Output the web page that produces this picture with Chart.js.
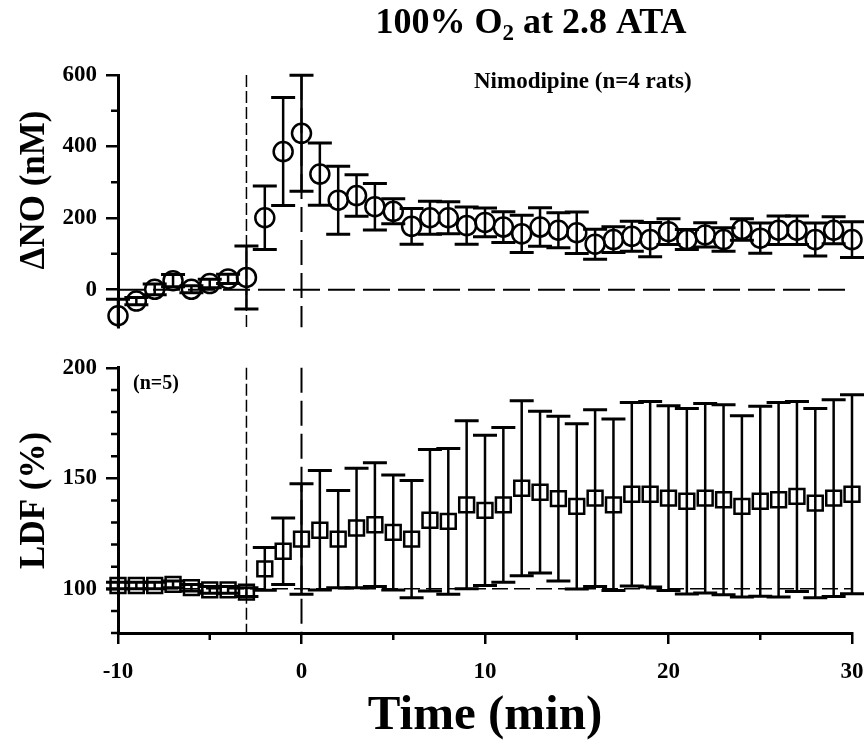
<!DOCTYPE html>
<html>
<head>
<meta charset="utf-8">
<script src="https://cdn.jsdelivr.net/npm/chart.js@4.4.1/dist/chart.umd.min.js"></script>
<style>
  html, body { margin: 0; padding: 0; background: #fff; }
  #wrap { position: relative; width: 867px; height: 755px; }
  canvas { position: absolute; left: 0; }
  #noChart { top: 0; }
  #ldfChart { top: 345px; }
</style>
</head>
<body>
<div id="wrap">
  <canvas id="noChart" width="867" height="350"></canvas>
  <canvas id="ldfChart" width="867" height="410"></canvas>
</div>
<script>
// sampling times (min), 0 = start of hyperbaric O2
var minutes = [-10, -9, -8, -7, -6, -5, -4, -3, -2, -1, 0, 1, 2, 3, 4, 5, 6, 7, 8, 9,
  10, 11, 12, 13, 14, 15, 16, 17, 18, 19, 20, 21, 22, 23, 24, 25, 26, 27, 28, 29, 30];

// delta NO (nM), mean and SEM
var noMean = [-73, -32, 1, 25, 1, 17, 30, 34, 201, 386, 437, 323, 250, 263, 232, 219, 177, 201, 201, 179,
  188, 175, 156, 175, 166, 159, 127, 140, 149, 140, 162, 140, 153, 140, 168, 144, 166, 166, 140, 166, 140];
var noSem = [46, 10, 15, 17, 10, 12, 13, 88, 89, 151, 162, 87, 95, 58, 65, 35, 50, 46, 45, 52,
  40, 43, 52, 54, 49, 58, 42, 36, 42, 48, 36, 28, 34, 33, 30, 42, 40, 40, 46, 38, 50];

// laser Doppler flow (% of baseline), mean and SEM
var ldfMean = [101.5, 101.5, 101.5, 102, 100.5, 99.5, 99.5, 98.5, 109, 117, 122.5, 126.5, 122.5, 127.5, 129, 125.5, 122.5, 131, 130.5, 138,
  135.5, 138, 145.5, 143.7, 140.8, 137.3, 141, 138, 142.8, 142.8, 141, 139.6, 141, 140.3, 137.3, 139.6, 140.3, 141.8, 138.8, 141, 142.8];
var ldfSem = [1.5, 1.5, 1.5, 1.5, 1.5, 1.5, 1.5, 2, 9.7, 15, 25, 27, 22, 27, 28, 26, 26.5, 32, 33, 38,
  34, 35, 39.6, 36.6, 37.3, 37.4, 40, 38.8, 41.5, 42, 41.8, 42, 42.9, 43, 41, 43, 44, 43, 42.8, 44.5, 45];

var eventTimes = [-3, 0];
var noBaseline = 0;
var ldfBaseline = 100;

var timeTicks = [-10, 0, 10, 20, 30];
var timeMinorTicks = [-5, 5, 15, 25];
var noTicks = [0, 200, 400, 600];
var noMinorTicks = [100, 300, 500];
var ldfTicks = [100, 150, 200];
var ldfMinorTicks = [80, 90, 110, 120, 130, 140, 160, 170, 180, 190];

var serif = "'Liberation Serif', 'Times New Roman', serif";
Chart.defaults.font.family = serif;
Chart.defaults.font.weight = 'bold';
Chart.defaults.color = '#000';

function toPoints(ys) {
  return minutes.map(function (t, i) { return { x: t, y: ys[i] }; });
}

// vertical SEM bars with caps, drawn under the markers
function errorBarPlugin(errors) {
  return {
    id: 'errorBars',
    beforeDatasetsDraw: function (chart) {
      var ctx = chart.ctx, a = chart.chartArea;
      var xs = chart.scales.x, ys = chart.scales.y;
      var pts = chart.data.datasets[0].data;
      ctx.save();
      ctx.beginPath();
      ctx.rect(a.left - 20, a.top - 4, a.right - a.left + 40, a.bottom - a.top + 4);
      ctx.clip();
      ctx.strokeStyle = '#000';
      pts.forEach(function (p, i) {
        var x = xs.getPixelForValue(p.x);
        var hi = ys.getPixelForValue(p.y + errors[i]);
        var lo = ys.getPixelForValue(p.y - errors[i]);
        ctx.lineWidth = 2.5;
        ctx.beginPath();
        ctx.moveTo(x, hi);
        ctx.lineTo(x, lo);
        ctx.stroke();
        ctx.lineWidth = 3;
        ctx.beginPath();
        ctx.moveTo(x - 12, hi); ctx.lineTo(x + 12, hi);
        ctx.moveTo(x - 12, lo); ctx.lineTo(x + 12, lo);
        ctx.stroke();
      });
      ctx.restore();
    }
  };
}

// dashed event / baseline lines
function refLinePlugin(vertical, horizontal) {
  return {
    id: 'refLines',
    beforeDatasetsDraw: function (chart) {
      var ctx = chart.ctx, a = chart.chartArea;
      var xs = chart.scales.x, ys = chart.scales.y;
      ctx.save();
      ctx.strokeStyle = '#000';
      vertical.forEach(function (l) {
        var px = xs.getPixelForValue(l.value);
        ctx.lineWidth = l.width;
        ctx.setLineDash(l.dash);
        ctx.beginPath();
        ctx.moveTo(px, a.top);
        ctx.lineTo(px, a.bottom);
        ctx.stroke();
      });
      horizontal.forEach(function (l) {
        var py = ys.getPixelForValue(l.value);
        ctx.lineWidth = l.width;
        ctx.setLineDash(l.dash);
        ctx.beginPath();
        ctx.moveTo(a.left, py);
        ctx.lineTo(a.right, py);
        ctx.stroke();
      });
      ctx.restore();
    }
  };
}

// short unlabelled ticks between the labelled ones
function minorTickPlugin(yValues, xValues) {
  return {
    id: 'minorTicks',
    afterDraw: function (chart) {
      var ctx = chart.ctx, a = chart.chartArea;
      ctx.save();
      ctx.strokeStyle = '#000';
      ctx.lineWidth = 2.5;
      ctx.beginPath();
      yValues.forEach(function (v) {
        var py = chart.scales.y.getPixelForValue(v);
        ctx.moveTo(a.left - 7, py);
        ctx.lineTo(a.left, py);
      });
      xValues.forEach(function (v) {
        var px = chart.scales.x.getPixelForValue(v);
        ctx.moveTo(px, a.bottom);
        ctx.lineTo(px, a.bottom + 7);
      });
      ctx.stroke();
      ctx.restore();
    }
  };
}

// free text: headings and panel notes (parts allow the O2 subscript)
function textPlugin(items) {
  return {
    id: 'panelText',
    afterDraw: function (chart) {
      var ctx = chart.ctx;
      items.forEach(function (it) {
        ctx.save();
        ctx.fillStyle = '#000';
        ctx.translate(it.x, it.y);
        if (it.rotation) ctx.rotate(it.rotation);
        ctx.textBaseline = it.baseline || 'alphabetic';
        ctx.textAlign = 'left';
        var widths = it.parts.map(function (p) {
          ctx.font = 'bold ' + p.size + 'px ' + serif;
          return ctx.measureText(p.text).width;
        });
        var total = widths.reduce(function (s, w) { return s + w; }, 0);
        var x = it.align === 'center' ? -total / 2 : 0;
        it.parts.forEach(function (p, i) {
          ctx.font = 'bold ' + p.size + 'px ' + serif;
          ctx.fillText(p.text, x, p.dy || 0);
          x += widths[i];
        });
        ctx.restore();
      });
    }
  };
}

function markerSet(values, style, radius) {
  return {
    data: toPoints(values),
    showLine: false,
    pointStyle: style,
    pointRadius: radius,
    pointHoverRadius: radius,
    pointBorderWidth: 2.5,
    pointBorderColor: '#000',
    pointBackgroundColor: 'rgba(0,0,0,0)',
    clip: false
  };
}

function fixedTicks(values) {
  return function (scale) {
    scale.ticks = values.map(function (v) { return { value: v }; });
  };
}

var tickFont = { size: 23, weight: 'bold' };

// upper panel: delta NO
new Chart(document.getElementById('noChart'), {
  type: 'scatter',
  data: { datasets: [markerSet(noMean, 'circle', 9.5)] },
  options: {
    responsive: false,
    animation: false,
    events: [],
    layout: { padding: { left: 0, right: 15, top: 75, bottom: 7 } },
    plugins: { legend: { display: false }, tooltip: { enabled: false } },
    scales: {
      x: { type: 'linear', min: -10, max: 30, display: false },
      y: {
        min: -105,
        max: 600,
        afterBuildTicks: fixedTicks(noTicks),
        afterFit: function (s) { s.width = 118; },
        border: { color: '#000', width: 3 },
        grid: { drawOnChartArea: false, color: '#000', lineWidth: 2.5, tickLength: 12 },
        ticks: { padding: 9, font: tickFont, color: '#000' }
      }
    }
  },
  plugins: [
    refLinePlugin(
      [{ value: eventTimes[0], width: 1.5, dash: [12, 4] }, { value: eventTimes[1], width: 2, dash: [25, 8] }],
      [{ value: noBaseline, width: 2, dash: [27, 8] }]
    ),
    errorBarPlugin(noSem),
    minorTickPlugin(noMinorTicks, []),
    textPlugin([
      { x: 531, y: 33, align: 'center', parts: [
        { text: '100% O', size: 36 }, { text: '2', size: 23, dy: 7 }, { text: ' at 2.8 ATA', size: 36 }] },
      { x: 35, y: 190, align: 'center', baseline: 'middle', rotation: -Math.PI / 2,
        parts: [{ text: '\u0394NO (nM)', size: 35 }] },
      { x: 474, y: 88, parts: [{ text: 'Nimodipine (n=4 rats)', size: 23 }] }
    ])
  ]
});

// lower panel: LDF
new Chart(document.getElementById('ldfChart'), {
  type: 'scatter',
  data: { datasets: [markerSet(ldfMean, 'rect', 10.5)] },
  options: {
    responsive: false,
    animation: false,
    events: [],
    layout: { padding: { left: 0, right: 15, top: 20, bottom: 0 } },
    plugins: { legend: { display: false }, tooltip: { enabled: false } },
    scales: {
      x: {
        type: 'linear',
        min: -10,
        max: 30,
        afterBuildTicks: fixedTicks(timeTicks),
        afterFit: function (s) {
          s.height = 122;
          // edge labels may overhang; keep the plot width the same as the panel above
          s.paddingLeft = 0;
          s.paddingRight = 0;
        },
        border: { color: '#000', width: 3 },
        grid: { drawOnChartArea: false, color: '#000', lineWidth: 2.5, tickLength: 11 },
        ticks: { padding: 14, font: tickFont, color: '#000', maxRotation: 0 },
        title: { display: true, text: 'Time (min)', font: { size: 49, weight: 'bold' },
          color: '#000', padding: { top: 0, bottom: 9 } }
      },
      y: {
        min: 80,
        max: 200,
        afterBuildTicks: fixedTicks(ldfTicks),
        afterFit: function (s) { s.width = 118; },
        border: { color: '#000', width: 3 },
        grid: { drawOnChartArea: false, color: '#000', lineWidth: 2.5, tickLength: 12 },
        ticks: { padding: 9, font: tickFont, color: '#000' },
        title: { display: true, text: 'LDF (%)', font: { size: 35, weight: 'bold' },
          color: '#000', padding: { top: 14, bottom: 0 } }
      }
    }
  },
  plugins: [
    refLinePlugin(
      [{ value: eventTimes[0], width: 1.5, dash: [12, 4] }, { value: eventTimes[1], width: 2, dash: [25, 8] }],
      [{ value: ldfBaseline, width: 1.5, dash: [16, 6] }]
    ),
    errorBarPlugin(ldfSem),
    minorTickPlugin(ldfMinorTicks, timeMinorTicks),
    textPlugin([
      { x: 133, y: 44, parts: [{ text: '(n=5)', size: 20 }] }
    ])
  ]
});
</script>
</body>
</html>
